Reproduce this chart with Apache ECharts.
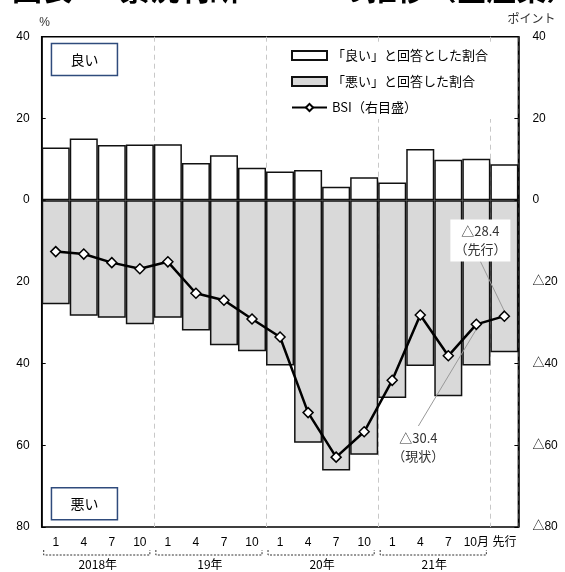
<!DOCTYPE html>
<html>
<head>
<meta charset="utf-8">
<script src="https://cdn.jsdelivr.net/npm/echarts@6/dist/echarts.min.js"></script>
<style>html,body{margin:0;padding:0;background:#fff;}#main{width:565px;height:572px;}</style>
</head>
<body>
<div id="main"></div>
<script>
const titleText = '図表1　景況判断ＢＳＩ の推移（全産業）';
const categories = ['1','4','7','10','1','4','7','10','1','4','7','10','1','4','7','10月','先行'];
const years = ['2018年','19年','20年','21年'];
const goodShare = [12.9,15.1,13.5,13.6,13.7,9.1,11.0,7.9,7.0,7.4,3.3,5.6,4.3,12.5,9.9,10.1,8.8];
const badShare = [25.5,28.3,28.8,30.4,28.8,31.9,35.5,37.0,40.5,59.4,66.2,62.3,48.4,40.6,48.0,40.5,37.2];
const bsi = [-12.6,-13.2,-15.3,-16.8,-15.1,-22.8,-24.5,-29.1,-33.5,-52.0,-62.9,-56.7,-44.1,-28.1,-38.1,-30.4,-28.4];
const noteNames = {15:'（現状）', 16:'（先行）'};

const FONT = '"Liberation Sans", "Noto Sans CJK JP", sans-serif';
const JFONT = '"Noto Sans CJK JP", sans-serif';
const tri = v => (v < 0 ? '△' + Math.abs(v) : String(v));

const chart = echarts.init(document.getElementById('main'));

const bsiData = bsi.map((v, i) => {
  if (noteNames[i] === undefined) return v;
  return {
    value: v,
    label: {
      show: true,
      position: i === 16 ? 'top' : 'bottom',
      formatter: p => tri(p.value) + '\n' + noteNames[p.dataIndex],
      fontFamily: JFONT, fontSize: 13, lineHeight: 18, color: '#333',
      backgroundColor: '#fff', padding: [3, 4], align: 'center'
    },
    labelLine: { show: true, lineStyle: { color: '#999', width: 1 } }
  };
});

const option = {
  animation: false,
  backgroundColor: '#fff',
  legend: {
    orient: 'vertical', left: 285, top: 44,
    backgroundColor: '#fff', padding: [5, 6],
    itemGap: 13, itemWidth: 35, itemHeight: 9,
    textStyle: { fontFamily: JFONT, fontSize: 13, color: '#000' },
    data: [
      { name: '「良い」と回答とした割合', icon: 'rect' },
      { name: '「悪い」と回答した割合', icon: 'rect' },
      { name: 'BSI（右目盛）' }
    ]
  },
  grid: {
    left: 41.7, right: 46.6, top: 36.7, bottom: 45,
    show: true, borderColor: '#000', borderWidth: 1.5, backgroundColor: 'transparent'
  },
  xAxis: [{
    type: 'category', data: categories, boundaryGap: true,
    axisLine: { show: false }, axisTick: { show: false },
    axisLabel: { margin: 10, fontFamily: FONT, fontSize: 12, color: '#000', interval: 0 },
    splitLine: {
      show: true,
      interval: idx => idx > 0 && idx % 4 === 0,
      lineStyle: { color: '#c8c8c8', type: [5, 4], width: 1 }
    }
  }, {
    type: 'value', position: 'bottom', min: -0.5, max: categories.length - 0.5,
    axisLine: { show: false, onZero: false }, axisTick: { show: false }, splitLine: { show: false },
    axisLabel: {
      margin: 31, fontFamily: JFONT, fontSize: 12, color: '#000',
      customValues: years.map((_, i) => i * 4 + 1.5),
      formatter: v => years[Math.round((v - 1.5) / 4)] || ''
    }
  }],
  yAxis: [{
    type: 'value', min: -80, max: 40, interval: 20, position: 'left',
    name: '%', nameLocation: 'end', nameGap: 8,
    nameTextStyle: { fontFamily: FONT, fontSize: 12, color: '#333', padding: [0, 0, 0, 6] },
    axisLine: { show: true, onZero: false, lineStyle: { color: '#000', width: 1.5 } },
    axisTick: { show: true, inside: true, length: 4, lineStyle: { color: '#000' } },
    axisLabel: { margin: 12, fontFamily: FONT, fontSize: 12, color: '#000', formatter: v => String(Math.abs(v)) },
    splitLine: { show: false }
  }, {
    type: 'value', min: -80, max: 40, interval: 20, position: 'right',
    name: 'ポイント', nameLocation: 'end', nameGap: 12,
    nameTextStyle: { fontFamily: JFONT, fontSize: 12, color: '#333', padding: [0, 0, 0, 26] },
    axisLine: { show: true, onZero: false, lineStyle: { color: '#000', width: 1.5 } },
    axisTick: { show: true, inside: true, length: 4, lineStyle: { color: '#000' } },
    axisLabel: { margin: 14, fontFamily: FONT, fontSize: 12, color: '#000', formatter: tri },
    splitLine: { show: false }
  }],
  series: [{
    name: '「良い」と回答とした割合', type: 'bar', stack: 'share', data: goodShare,
    barCategoryGap: '0%',
    itemStyle: { color: '#ffffff', borderColor: '#111', borderWidth: 1.5 }
  }, {
    name: '「悪い」と回答した割合', type: 'bar', stack: 'share', data: badShare.map(v => -v),
    barCategoryGap: '0%',
    itemStyle: { color: '#d9d9d9', borderColor: '#111', borderWidth: 1.5 }
  }, {
    name: 'BSI（右目盛）', type: 'line', yAxisIndex: 1, data: bsiData,
    symbol: 'diamond', symbolSize: 10, z: 5,
    lineStyle: { color: '#000', width: 2.5 },
    itemStyle: { color: '#fff', borderColor: '#000', borderWidth: 1.5 },
    labelLayout: p => {
      if (p.dataIndex === 16) return { dx: -24, dy: -44 };
      if (p.dataIndex === 15) return { dx: -58, dy: 91 };
      return {};
    }
  }]
};
chart.setOption(option);

// title (clipped at the top edge), year brackets and the 良い / 悪い boxes
const c0 = chart.convertToPixel({ xAxisIndex: 0 }, 0);
const c1 = chart.convertToPixel({ xAxisIndex: 0 }, 1);
const bw = c1 - c0;
const yTop = chart.convertToPixel({ yAxisIndex: 0 }, 40);
const yBot = chart.convertToPixel({ yAxisIndex: 0 }, -80);
const graphics = [{
  type: 'text', x: 12, y: 4, silent: true,
  style: { text: titleText, fontFamily: JFONT, fontSize: 30, fontWeight: 'bold', fill: '#000',
           align: 'left', verticalAlign: 'bottom' }
}];
years.forEach((y, i) => {
  const xl = chart.convertToPixel({ xAxisIndex: 0 }, i * 4) - bw / 2 + 2;
  const xr = chart.convertToPixel({ xAxisIndex: 0 }, i * 4 + 3) + bw / 2 - 4;
  const yb = yBot + 28, yt = yBot + 23;
  graphics.push({
    type: 'polyline', silent: true,
    shape: { points: [[xl, yt], [xl, yb], [xr, yb], [xr, yt]] },
    style: { stroke: '#333', lineWidth: 1, lineDash: [2, 1.5], fill: null }
  });
});
const boxX = c0 - bw / 2 + 9;
[['良い', yTop + 6], ['悪い', yBot - 40]].forEach(([t, y]) => {
  graphics.push({
    type: 'group', left: boxX, top: y, children: [
      { type: 'rect', shape: { x: 0, y: 0, width: 66, height: 32 },
        style: { fill: '#fff', stroke: '#2f4b7c', lineWidth: 1.5 } },
      { type: 'text', x: 33, y: 16,
        style: { text: t, fontFamily: JFONT, fontSize: 14, fill: '#000', align: 'center', verticalAlign: 'middle' } }
    ]
  });
});
chart.setOption({ graphic: graphics });
</script>
</body>
</html>
